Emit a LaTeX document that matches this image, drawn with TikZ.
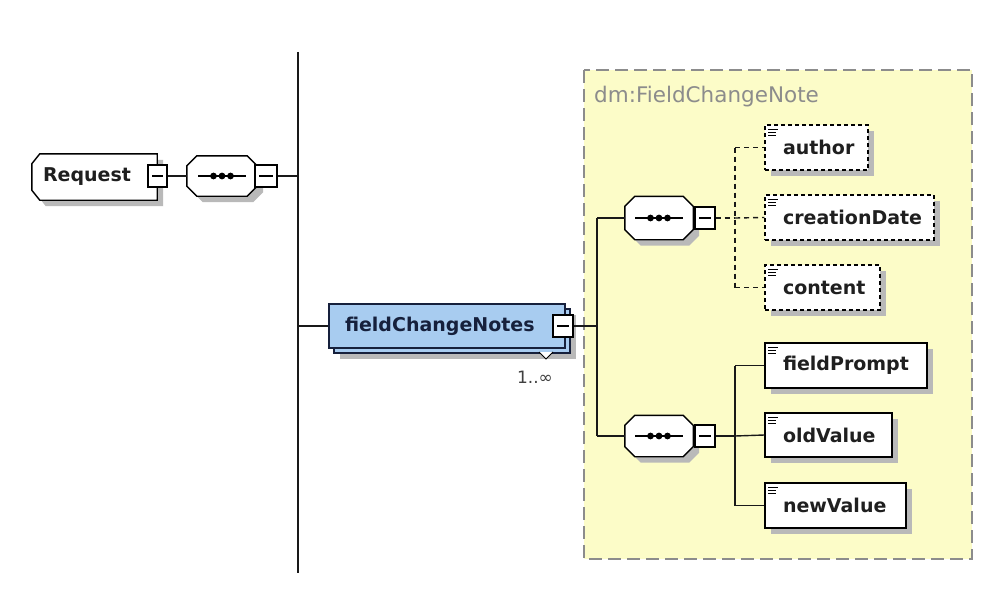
\documentclass[tikz,border=0pt]{standalone}
\usepackage{fontspec}
\setmainfont{DejaVu Sans}
\usetikzlibrary{shadows}
\definecolor{fcnblue}{RGB}{168,204,240}
\definecolor{notey}{RGB}{252,252,200}
\definecolor{shdgray}{RGB}{185,185,185}
\definecolor{navy}{RGB}{22,32,60}
\pgfdeclarelayer{back}
\pgfdeclarelayer{bg}
\pgfsetlayers{back,bg,main}
% octagon (compositor) outline around a named node
\newcommand\octdraw[3]{\path[#3] ([xshift=#2]#1.north west) -- ([xshift=-#2]#1.north east) -- ([yshift=-#2]#1.north east) -- ([yshift=#2]#1.south east) -- ([xshift=-#2]#1.south east) -- ([xshift=#2]#1.south west) -- ([yshift=#2]#1.south west) -- ([yshift=-#2]#1.north west) -- cycle;}
\newcommand\seqdraw[1]{%
  \octdraw{#1}{10pt}{fill=shdgray, transform canvas={xshift=6pt,yshift=-6pt}}
  \octdraw{#1}{10pt}{draw=black, fill=white, line width=1.4pt}
  \draw[line width=1.4pt] ([xshift=-24pt]#1.center) -- ([xshift=24pt]#1.center);
  \foreach \dd in {-8.5,0,8.5} {\fill[black] ([xshift=\dd pt]#1.center) circle (3.4pt);}
}
\tikzset{
  conn/.style={line width=1.4pt, draw=black!90},
  dconn/.style={line width=1.4pt, draw=black!90, dash pattern=on 5pt off 4pt},
  lbl/.style={font=\fontsize{19}{22}\selectfont\bfseries, text=black!88},
  shd/.style={general shadow={fill=shdgray, shadow xshift=6pt, shadow yshift=-6pt}},
  icon/.style={path picture={
     \draw[solid, draw=black, line width=0.9pt] ([xshift=3pt,yshift=-4pt]path picture bounding box.north west) -- ++(10pt,0pt);
     \draw[solid, draw=black, line width=0.9pt] ([xshift=3pt,yshift=-7pt]path picture bounding box.north west) -- ++(8pt,0pt);
     \draw[solid, draw=black, line width=0.9pt] ([xshift=3pt,yshift=-10pt]path picture bounding box.north west) -- ++(8pt,0pt);}},
  elem/.style={rectangle, draw=black, fill=white, line width=1.4pt, shd, lbl, icon,
     minimum height=45pt, inner xsep=18pt, inner ysep=0pt, align=left, text width=#1},
  optelem/.style={elem=#1, dash pattern=on 4pt off 3pt},
  minusbox/.style={rectangle, draw=black, fill=white, line width=1.3pt, minimum width=20pt,
     minimum height=22pt, inner sep=0pt, path picture={
     \draw[draw=black, line width=1.1pt] ([xshift=4pt]path picture bounding box.west) -- ([xshift=-4pt]path picture bounding box.east);}},
  seqbox/.style={rectangle, draw=none, fill=none, minimum width=68pt, minimum height=42pt, inner sep=0pt},
  reqbox/.style={rectangle, draw=none, lbl, minimum height=46pt, inner xsep=11pt, inner ysep=0pt,
     align=left, text width=#1},
  fcnbox/.style={rectangle, draw=navy, fill=fcnblue, line width=1.4pt, lbl, text=navy,
     general shadow={fill=shdgray, shadow xshift=11pt, shadow yshift=-11pt},
     general shadow={fill=fcnblue, draw=navy, line width=1.4pt, shadow xshift=5pt, shadow yshift=-5pt},
     minimum height=44pt, inner xsep=16pt, inner ysep=0pt, align=left, text width=#1},
}
\begin{document}
\begin{tikzpicture}[x=1pt,y=-1pt]
\useasboundingbox (0,0) rectangle (992,602);
\begin{pgfonlayer}{back}
\fill[white] (0,0) rectangle (992,602);
% type group
\draw[fill=notey, draw=black!45, line width=1.3pt, dash pattern=on 13pt off 6pt] (584,70) rectangle (972,559);
\end{pgfonlayer}
\node[anchor=west, font=\fontsize{21.5}{24}\selectfont, text=black!45, inner sep=0pt] (title) at (594,97) {dm:FieldChangeNote};

% left part
\node[reqbox=103pt] (req) at (94.5,177) {Request};
\begin{pgfonlayer}{bg}
\path[fill=shdgray, transform canvas={xshift=6pt,yshift=-6pt}] ([xshift=8pt]req.north west) -- (req.north east) -- (req.south east) -- ([xshift=8pt]req.south west) -- ([yshift=10pt]req.south west) -- ([yshift=-10pt]req.north west) -- cycle;
\path[draw=black, fill=white, line width=1.4pt] ([xshift=8pt]req.north west) -- (req.north east) -- (req.south east) -- ([xshift=8pt]req.south west) -- ([yshift=10pt]req.south west) -- ([yshift=-10pt]req.north west) -- cycle;
\end{pgfonlayer}
\node[minusbox, minimum width=19pt] (reqm) at (157.5,176) {};
\node[seqbox, minimum width=70pt, minimum height=40pt] (seq0) at (222,176) {};
\seqdraw{seq0}
\node[minusbox, minimum width=22pt] (seq0m) at (266,176) {};

\coordinate (t0) at (298,52);
\coordinate (b0) at (298,573);
\coordinate (j0a) at (298,176);
\coordinate (j0b) at (298,326);

% fieldChangeNotes
\node[fcnbox=204pt] (fcn) at (447,326) {fieldChangeNotes};
\node[minusbox] (fcnm) at (563,326) {};
\draw[line width=1pt, fill=white] (539,352) -- (546,359) -- (553,352);
\node[font=\fontsize{17}{20}\selectfont, text=black!75, inner sep=0pt] (mult) at (535,377) {1..∞};

\coordinate (j1a) at (597,218);
\coordinate (j1m) at (597,326);
\coordinate (j1b) at (597,436);

% sequences
\node[seqbox, minimum height=43pt] (seqA) at (659,218) {};
\seqdraw{seqA}
\node[minusbox] (seqAm) at (705,218) {};
\node[seqbox, minimum height=41pt] (seqB) at (659,436) {};
\seqdraw{seqB}
\node[minusbox] (seqBm) at (705,436) {};

\coordinate (kA) at (735,218);
\coordinate (kB) at (735,436);

% elements
\node[optelem=67pt] (author) at (816.5,147.5) {author};
\node[optelem=133pt] (cdate) at (849.5,217.5) {creationDate};
\node[optelem=79pt] (content) at (822.5,287.5) {content};
\node[elem=126pt] (fprompt) at (846,365.5) {fieldPrompt};
\node[elem=91pt, minimum height=44pt] (oldv) at (828.5,435) {oldValue};
\node[elem=105pt] (newv) at (835.5,505.5) {newValue};

% connectors
\draw[conn] (reqm.east) -- (seq0.west);
\draw[conn] (seq0m.east) -- (j0a);
\draw[conn] (t0) -- (b0);
\draw[conn] (j0b) -- (fcn.west);
\draw[conn] (fcnm.east) -- (j1m);
\draw[conn] (j1a) -- (j1b);
\draw[conn] (j1a) -- (seqA.west);
\draw[conn] (j1b) -- (seqB.west);

\draw[dconn] (seqAm.east) -- (kA);
\draw[dconn] (author.west -| kA) -- (content.west -| kA);
\draw[dconn] (author.west -| kA) -- (author.west);
\draw[dconn] (kA) -- (cdate.west);
\draw[dconn] (content.west -| kA) -- (content.west);

\draw[conn] (seqBm.east) -- (kB);
\draw[conn] (fprompt.west -| kB) -- (newv.west -| kB);
\draw[conn] (fprompt.west -| kB) -- (fprompt.west);
\draw[conn] (kB) -- (oldv.west);
\draw[conn] (newv.west -| kB) -- (newv.west);
\end{tikzpicture}
\end{document}
